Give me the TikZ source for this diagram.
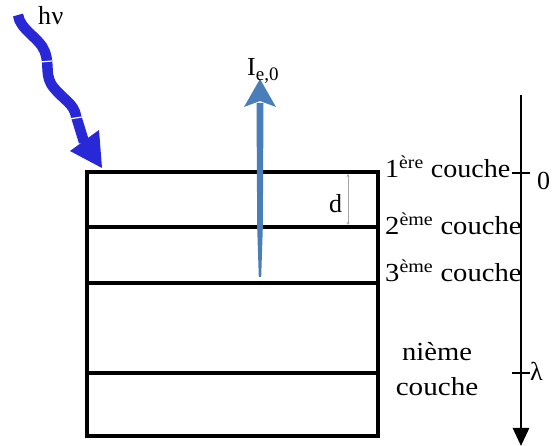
\documentclass[tikz,border=0pt]{standalone}
\usepackage{graphicx}
\usepackage{fontspec}
\setmainfont{Liberation Serif}
\usetikzlibrary{arrows.meta}
\definecolor{hvblue}{RGB}{40,40,215}
\definecolor{ieblue}{RGB}{74,126,187}
\newcommand{\widetxt}[2][1.08]{\scalebox{#1}[1]{#2}}
\tikzset{
  layer/.style={line width=3.5pt},
  lbl/.style={inner sep=0pt, anchor=base west, font=\fontsize{26}{30}\selectfont},
  axis/.style={line width=2.8pt},
}
\begin{document}
\begin{tikzpicture}[x=1pt,y=-1pt]
\useasboundingbox (0,0) rectangle (552,446);
% sample box
\draw[layer] (87,172) rectangle (378,436);
\draw[layer] (87,227) -- (378,227);
\draw[layer] (87,283) -- (378,283);
\draw[layer] (87,373) -- (378,373);
% d dimension
\coordinate (dtop) at (348,174);
\coordinate (dbot) at (348,225);
\draw[gray!70, line width=1pt, {Stealth[length=3pt,width=3pt]}-{Stealth[length=3pt,width=3pt]}] (dtop) -- (dbot);
\node[lbl] (d) at (329,213) {d};
% hv wavy arrow
\coordinate (hvs) at (18,15);
\coordinate (hve) at (84,142);
\draw[hvblue, line width=10.5pt] (hvs) .. controls (20,30) and (40,38) .. (45,52)
   .. controls (50,66) and (44,76) .. (54,88)
   .. controls (64,100) and (74,104) .. (76,116) -- (hve);
\draw[white, line width=1.2pt] (40,62) -- (52,61);
\draw[white, line width=1.2pt] (69,119) -- (82,117);
\fill[hvblue] (70,151) -- (99,130) -- (102,168) -- cycle;
\node[lbl] (hv) at (38,25) {h\kern0.5pt ν};
% I_e,0 arrow
\coordinate (ibot) at (260,277);
\coordinate (imid) at (260,228);
\coordinate (itop) at (260,103);
\fill[ieblue] (258.8,277) -- (261.2,277) -- (262.8,228) -- (263.5,103) -- (256.5,103) -- (257.2,228) -- cycle;
\fill[ieblue] (260,79) -- (276,107) -- (260,101) -- (244,107) -- cycle;
\node[lbl] (ie) at (247,76) {I\raisebox{-0.35ex}{\fontsize{19}{21}\selectfont e,0}};
% layer labels
\node[lbl] (c1) at (385,178) {\widetxt{1\textsuperscript{ère} couche}};
\node[lbl] (c2) at (385,235) {\widetxt[1.1]{2\textsuperscript{ème} couche}};
\node[lbl] (c3) at (385,282) {\widetxt[1.1]{3\textsuperscript{ème} couche}};
\node[inner sep=0pt, align=center, font=\fontsize{26}{35}\selectfont] (cn) at (437,369) {\widetxt[1.1]{nième}\\\widetxt[1.12]{couche}};
% depth axis
\coordinate (atop) at (521,95);
\coordinate (abot) at (521,446);
\draw[axis, -{Triangle[width=16pt,length=18pt]}] (atop) -- (abot);
\draw[axis] (512,173) -- (530,173);
\draw[axis] (512,373) -- (530,373);
\node[lbl] (zero) at (537,190) {0};
\node[lbl] (lam) at (530,381) {λ};
\end{tikzpicture}
\end{document}
